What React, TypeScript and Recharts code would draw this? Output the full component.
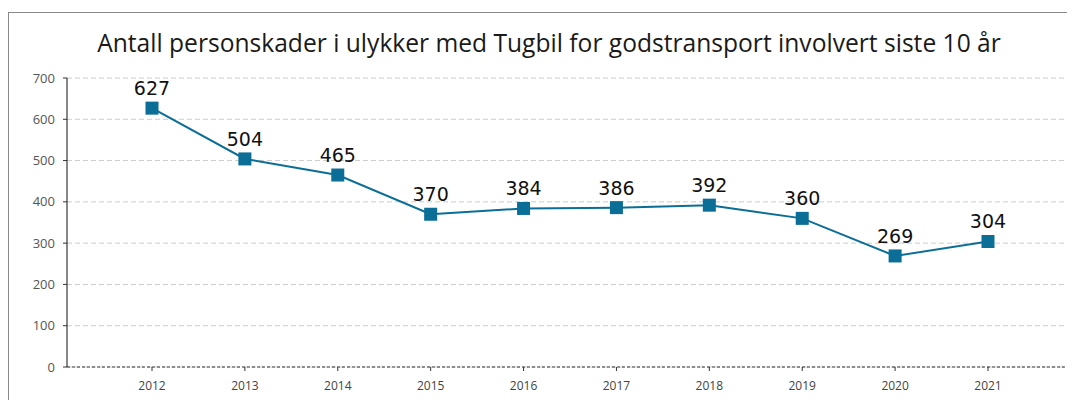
import React from "react";
import { LineChart, Line, XAxis, YAxis, CartesianGrid, LabelList } from "recharts";

const years = ["2012", "2013", "2014", "2015", "2016", "2017", "2018", "2019", "2020", "2021"];
const injuries = [627, 504, 465, 370, 384, 386, 392, 360, 269, 304];
const yTicks = [0, 100, 200, 300, 400, 500, 600, 700];
const title = "Antall personskader i ulykker med Tugbil for godstransport involvert siste 10 år";

const data = years.map((y, i) => ({ year: y, value: injuries[i] }));

const COLOR = "#0b6e96";

const SquareDot = (props: any) => {
  const { cx, cy } = props;
  if (cx == null || cy == null) return null;
  const s = 13;
  return <rect x={cx - s / 2} y={cy - s / 2} width={s} height={s} fill={COLOR} />;
};

export default function App() {
  return (
    <div style={{ position: "relative", width: 1067, height: 392 }}>
      <div
        style={{
          position: "absolute",
          left: 0,
          top: 4,
          width: 1066,
          height: 400,
          borderTop: "1px solid #8a8a8a",
          borderLeft: "1px solid #8a8a8a",
        }}
      />
      <div
        style={{
          position: "absolute",
          left: 0,
          width: 1082,
          top: 18,
          textAlign: "center",
          fontFamily: "'Open Sans', sans-serif",
          fontSize: 24.6,
          color: "#1a1a1a",
          whiteSpace: "nowrap",
        }}
      >
        {title}
      </div>
      <LineChart
        width={1067}
        height={392}
        data={data}
        margin={{ top: 70, right: 5, bottom: 3, left: 0 }}
        style={{ position: "absolute", left: 0, top: 0 }}
      >
        <CartesianGrid horizontal vertical={false} stroke="#cccccc" strokeDasharray="5 3" />
        <XAxis
          dataKey="year"
          scale="point"
          padding={{ left: 85, right: 82 }}
          height={30}
          axisLine={{ stroke: "#333", strokeDasharray: "3 2" }}
          tickLine={{ stroke: "#333" }}
          tickSize={4}
          tickMargin={10}
          tick={{ fill: "#444", fontSize: 12, fontFamily: "'Open Sans', sans-serif" }}
        />
        <YAxis
          width={59}
          domain={[0, 700]}
          ticks={yTicks}
          interval={0}
          axisLine={{ stroke: "#111" }}
          tickLine={{ stroke: "#333" }}
          tickSize={4}
          tickMargin={8}
          tick={{ fill: "#555", fontSize: 13, fontFamily: "'Open Sans', sans-serif" }}
        />
        <Line
          type="linear"
          dataKey="value"
          stroke={COLOR}
          strokeWidth={2}
          dot={<SquareDot />}
          activeDot={false}
          isAnimationActive={false}
        >
          <LabelList
            dataKey="value"
            position="top"
            offset={13}
            fill="#111"
            fontSize={19}
            fontFamily="'DejaVu Sans', sans-serif"
          />
        </Line>
      </LineChart>
    </div>
  );
}
